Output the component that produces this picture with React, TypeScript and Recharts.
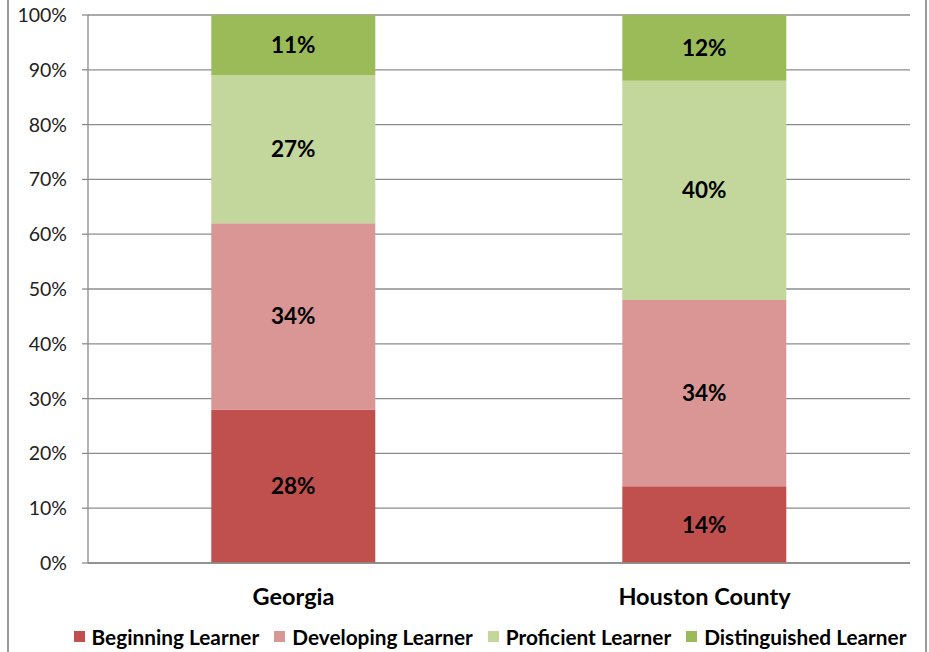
import React from 'react';
import { BarChart, Bar, XAxis, YAxis, CartesianGrid, LabelList, Legend } from 'recharts';

const categories = ['Georgia', 'Houston County'];
const beginning = [28, 14];
const developing = [34, 34];
const proficient = [27, 40];
const distinguished = [11, 12];
const yTicks = [0, 10, 20, 30, 40, 50, 60, 70, 80, 90, 100];
const seriesKeys = ['beginning', 'developing', 'proficient', 'distinguished'];
const seriesNames = ['Beginning Learner', 'Developing Learner', 'Proficient Learner', 'Distinguished Learner'];
const seriesColors = ['#C0504D', '#D99694', '#C3D69B', '#9BBB59'];

const data = categories.map((name, i) => ({
  name,
  beginning: beginning[i],
  developing: developing[i],
  proficient: proficient[i],
  distinguished: distinguished[i],
}));

const FONT = 'Lato, "Open Sans", sans-serif';
const GRID = '#8c8c8c';

const LegendContent = () => (
  <div
    style={{
      display: 'flex',
      justifyContent: 'center',
      alignItems: 'center',
      fontFamily: FONT,
      fontWeight: 700,
      fontSize: 20.8,
      color: '#000',
      paddingLeft: 70,
      paddingTop: 6,
      whiteSpace: 'nowrap',
    }}
  >
    {seriesNames.map((n, i) => (
      <div key={n} style={{ display: 'flex', alignItems: 'center', marginRight: i < 3 ? 15 : 0 }}>
        <div style={{ width: 11, height: 11, background: seriesColors[i], marginRight: 7 }} />
        <span>{n}</span>
      </div>
    ))}
  </div>
);

export default function App() {
  return (
    <div style={{ position: 'absolute', left: 0, top: 0, width: 929, height: 652, background: '#fff', overflow: 'hidden' }}>
      <div
        style={{
          position: 'absolute',
          left: 7,
          top: -4,
          width: 916,
          height: 660,
          borderLeft: '2px solid #9a9a9a',
          borderRight: '2px solid #9a9a9a',
        }}
      />
      <BarChart
        width={929}
        height={652}
        data={data}
        margin={{ top: 15, right: 19, left: 0, bottom: 0 }}
        barCategoryGap="30%"
        style={{ position: 'absolute', left: 0, top: 0 }}
      >
        <CartesianGrid horizontal vertical={false} stroke={GRID} strokeWidth={1.3} />
        <XAxis
          xAxisId="edges"
          type="number"
          domain={[0, 2]}
          ticks={[0, 1, 2]}
          height={0}
          tick={false}
          axisLine={false}
          tickLine={{ stroke: GRID, strokeWidth: 1.3 }}
          tickSize={6}
        />
        <XAxis
          xAxisId="cat"
          dataKey="name"
          height={55}
          tickLine={false}
          tickSize={0}
          tickMargin={25}
          axisLine={{ stroke: GRID, strokeWidth: 1.3 }}
          tick={{ fontFamily: FONT, fontWeight: 700, fontSize: 23.5, fill: '#000' }}
        />
        <YAxis
          width={88}
          domain={[0, 100]}
          ticks={yTicks}
          tickFormatter={(v: number) => `${v}%`}
          tickSize={6}
          tickMargin={15}
          axisLine={{ stroke: GRID, strokeWidth: 1.3 }}
          tickLine={{ stroke: GRID, strokeWidth: 1.3 }}
          tick={{ fontFamily: FONT, fontSize: 19.5, fill: '#222' }}
        />
        <Legend verticalAlign="bottom" height={34} content={<LegendContent />} />
        {seriesKeys.map((k, i) => (
          <Bar
            key={k}
            xAxisId="cat"
            dataKey={k}
            name={seriesNames[i]}
            stackId="s"
            fill={seriesColors[i]}
            isAnimationActive={false}
          >
            <LabelList
              dataKey={k}
              position="center"
              formatter={(v: number) => `${v}%`}
              style={{ fontFamily: FONT, fontWeight: 700, fontSize: 22.5, fill: '#000' }}
            />
          </Bar>
        ))}
      </BarChart>
    </div>
  );
}
